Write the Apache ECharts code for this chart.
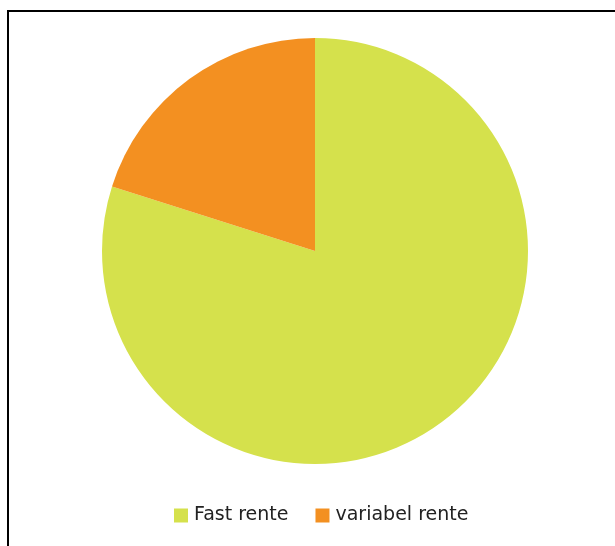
<!DOCTYPE html>
<html>
<head>
<meta charset="utf-8">
<script src="https://cdn.jsdelivr.net/npm/echarts@6/dist/echarts.min.js"></script>
<style>
html,body{margin:0;padding:0;background:#fff;}
#chart{width:615px;height:546px;}
</style>
</head>
<body>
<div id="chart"></div>
<script>
var categories = ['Fast rente', 'variabel rente'];
var values = [79.9, 20.1];
var colors = ['#D5E14C', '#F39021'];

var chart = echarts.init(document.getElementById('chart'), null, {renderer: 'canvas'});
chart.setOption({
  animation: false,
  graphic: [{
    type: 'rect',
    shape: {x: 8, y: 11, width: 700, height: 600},
    style: {fill: 'none', stroke: '#000', lineWidth: 2}
  }],
  legend: {
    top: 506,
    left: 174,
    itemWidth: 14,
    itemHeight: 14,
    itemGap: 27,
    icon: 'rect',
    padding: 0,
    textStyle: {fontFamily: 'DejaVu Sans', fontSize: 19, color: '#222', padding: [0, 0, 0, 1]},
    data: categories
  },
  series: [{
    type: 'pie',
    center: [315, 251],
    radius: [0, 213],
    startAngle: 90,
    clockwise: true,
    label: {show: false},
    labelLine: {show: false},
    emphasis: {disabled: true},
    itemStyle: {borderWidth: 0},
    data: categories.map(function (c, i) {
      return {name: c, value: values[i], itemStyle: {color: colors[i]}};
    })
  }]
});
</script>
</body>
</html>
